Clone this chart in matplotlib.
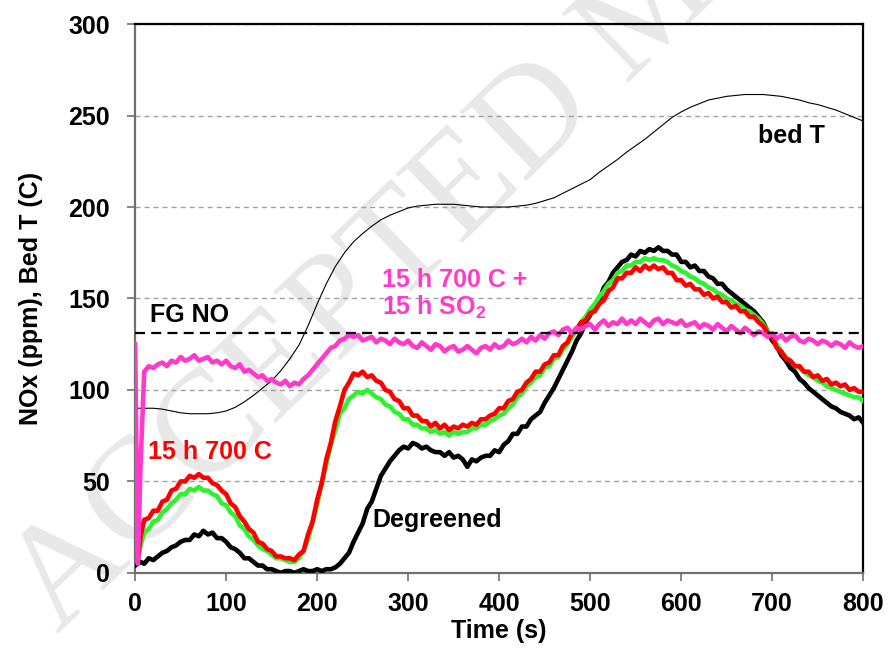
import numpy as np
import matplotlib
matplotlib.use("Agg")
import matplotlib.pyplot as plt

plt.rcParams['font.family'] = ['Liberation Sans', 'DejaVu Sans']
plt.rcParams['font.weight'] = 'bold'
plt.rcParams['mathtext.fontset'] = 'custom'
plt.rcParams['mathtext.bf'] = 'Liberation Sans:bold'
plt.rcParams['mathtext.rm'] = 'Liberation Sans:bold'
plt.rcParams['mathtext.default'] = 'bf'

# time base for the NOx traces (s)
t_nox = [0, 3, 6] + list(range(10, 801, 5))

nox_degreened = [
    4, 5, 6, 5, 8, 7, 9, 11, 12, 14,
    15, 17, 18, 18, 21, 20, 23, 21, 22, 19,
    19, 17, 14, 13, 11, 8, 8, 6, 4, 4,
    2, 2, 1, 0, 1, 1, 0, 1, 2, 1,
    1, 2, 1, 2, 2, 3, 5, 8, 11, 17,
    22, 27, 35, 39, 46, 53, 57, 61, 64, 67,
    69, 68, 71, 70, 68, 69, 67, 66, 66, 64,
    66, 63, 64, 62, 58, 62, 61, 63, 64, 64,
    67, 66, 70, 72, 76, 76, 80, 80, 84, 86,
    88, 93, 97, 101, 106, 111, 116, 121, 127, 131,
    137, 141, 145, 149, 156, 159, 164, 167, 170, 171,
    174, 173, 176, 175, 177, 176, 178, 176, 176, 174,
    174, 170, 170, 167, 168, 165, 165, 162, 161, 158,
    158, 155, 153, 151, 149, 147, 145, 143, 140, 137,
    132, 127, 124, 119, 116, 112, 110, 106, 104, 101,
    99, 97, 95, 93, 91, 90, 88, 87, 86, 84,
    85, 82,
]

nox_700c = [
    10, 7, 20, 29, 30, 34, 34, 39, 40, 45,
    46, 50, 50, 53, 52, 54, 52, 52, 49, 48,
    45, 43, 38, 36, 31, 28, 24, 22, 17, 16,
    13, 12, 9, 9, 8, 8, 7, 10, 12, 21,
    28, 40, 49, 62, 71, 83, 91, 100, 104, 109,
    108, 110, 107, 108, 105, 104, 100, 99, 95, 94,
    90, 90, 86, 86, 83, 83, 80, 82, 79, 81,
    78, 80, 79, 81, 80, 82, 81, 84, 84, 86,
    87, 90, 90, 94, 95, 99, 100, 104, 106, 110,
    110, 114, 115, 119, 119, 124, 126, 131, 133, 137,
    138, 142, 143, 147, 149, 154, 156, 161, 161, 164,
    164, 167, 165, 168, 166, 168, 166, 167, 164, 164,
    160, 160, 157, 158, 155, 155, 152, 153, 150, 151,
    148, 148, 145, 146, 143, 143, 140, 140, 137, 135,
    131, 129, 123, 121, 117, 116, 113, 113, 110, 110,
    107, 108, 105, 106, 103, 104, 102, 103, 100, 101,
    99, 99,
]

nox_green = [
    10, 8, 15, 22, 24, 28, 29, 33, 35, 38,
    40, 43, 43, 46, 45, 47, 45, 45, 43, 42,
    38, 37, 33, 31, 26, 24, 20, 18, 15, 13,
    12, 10, 8, 8, 7, 6, 6, 8, 12, 18,
    28, 37, 49, 59, 70, 78, 87, 90, 95, 97,
    99, 98, 100, 98, 96, 95, 92, 91, 88, 87,
    84, 84, 81, 81, 79, 79, 77, 78, 76, 77,
    75, 77, 76, 77, 77, 79, 79, 81, 81, 83,
    84, 86, 87, 90, 92, 96, 98, 102, 104, 107,
    108, 112, 113, 117, 118, 122, 125, 129, 133, 137,
    140, 144, 147, 151, 154, 158, 160, 164, 165, 168,
    168, 170, 170, 172, 171, 172, 171, 171, 170, 168,
    167, 165, 164, 162, 161, 159, 158, 156, 155, 153,
    152, 150, 149, 147, 146, 144, 143, 141, 139, 136,
    132, 129, 125, 121, 118, 116, 113, 112, 110, 108,
    107, 105, 104, 102, 101, 100, 99, 98, 97, 96,
    96, 94,
]

nox_700c_so2 = [
    125, 5, 60, 110, 113, 112, 114, 115, 113, 116,
    115, 118, 116, 117, 119, 116, 117, 118, 115, 116,
    114, 116, 113, 112, 114, 110, 111, 109, 107, 108,
    105, 106, 104, 103, 105, 102, 104, 103, 106, 108,
    111, 114, 117, 120, 123, 124, 127, 128, 130, 129,
    130, 127, 128, 129, 126, 128, 127, 125, 128, 126,
    125, 127, 124, 123, 126, 124, 122, 125, 124, 121,
    123, 124, 121, 122, 124, 122, 120, 123, 124, 122,
    125, 123, 124, 127, 125, 126, 128, 126, 129, 127,
    130, 128, 131, 132, 130, 133, 134, 131, 134, 133,
    135, 136, 133, 136, 138, 135, 137, 136, 139, 136,
    138, 136, 139, 137, 135, 138, 139, 136, 138, 137,
    136, 138, 135, 136, 137, 134, 136, 135, 133, 136,
    134, 132, 135, 133, 131, 134, 132, 130, 132, 131,
    129, 131, 128, 130, 127, 129, 130, 127, 126, 128,
    127, 125, 127, 126, 124, 126, 125, 123, 126, 124,
    123, 124,
]

# bed temperature, every 10 s
t_bed = list(range(0, 801, 10))
bed_T = [
    90, 90, 90, 89.5, 88.5, 87.5, 87, 87, 87, 87.5,
    88.5, 90.5, 93.5, 97, 101, 105, 110.5, 117, 124.5, 135,
    147, 158, 167.5, 175, 181, 185.5, 189.5, 193, 195.5, 197.5,
    199.5, 200.5, 201, 201.5, 201.5, 201.5, 201, 200.5, 200, 200,
    200, 200, 200.5, 201, 202, 203.5, 205, 207.5, 210, 212.5,
    215, 219, 222.5, 226, 230, 233.5, 237, 241, 245, 249,
    252, 254.5, 256.5, 258.5, 259.5, 260.5, 261, 261.5, 261.5, 261.5,
    261, 260.5, 259.5, 258.5, 257, 256, 254.5, 253, 251, 249,
    247,
]

fg_no = 131

black = 'black'
green = '#2EF22E'
red = '#FF0000'
pink = '#FF3ACB'

fig = plt.figure(figsize=(8.89, 6.51), dpi=100)
ax = fig.add_axes([0.152, 0.120, 0.819, 0.843])
ax.patch.set_alpha(0)

fig.text(0.064, 0.025, 'ACCEPTED MANUSCRIPT', rotation=44, rotation_mode='anchor',
         ha='left', va='baseline', fontsize=105, family='Liberation Serif',
         weight='normal', color='#e8e8e8', zorder=-5)

ax.plot(t_nox, nox_degreened, color=black, lw=3.3, solid_joinstyle='round', zorder=3)
ax.plot(t_nox, nox_green, color=green, lw=3.3, solid_joinstyle='round', zorder=4)
ax.plot(t_nox, nox_700c, color=red, lw=3.3, solid_joinstyle='round', zorder=5)
ax.plot(t_nox, nox_700c_so2, color=pink, lw=3.3, solid_joinstyle='round', zorder=6)
ax.plot(t_bed, bed_T, color='black', lw=0.8, zorder=2)
ax.axhline(fg_no, color='black', lw=1.6, dashes=(4.5, 2.8), zorder=7)

ax.set_xlim(0, 800)
ax.set_ylim(0, 300)
ax.set_xticks(np.arange(0, 801, 100))
ax.set_yticks(np.arange(0, 301, 50))
ax.grid(axis='y', color='#a0a0a0', lw=1.0, dashes=(3.6, 2.9), zorder=1)
ax.set_axisbelow(True)

for side in ['left', 'bottom']:
    ax.spines[side].set_color('#707070')
    ax.spines[side].set_linewidth(1.6)
for side in ['top', 'right']:
    ax.spines[side].set_color('black')
    ax.spines[side].set_linewidth(1.6)
ax.tick_params(axis='both', direction='out', length=6, width=1.2, color='#707070',
               labelsize=18)
ax.tick_params(axis='y', pad=12)
ax.tick_params(axis='x', pad=8)

ax.set_xlabel('Time (s)', fontsize=18, fontweight='bold', labelpad=2)
ax.set_ylabel('NOx (ppm), Bed T (C)', fontsize=18, fontweight='bold', labelpad=18)

ax.text(16, 141, 'FG NO', fontsize=18, color='black', ha='left', va='center')
ax.text(271, 160, '15 h 700 C +', fontsize=18, color=pink, ha='left', va='center')
ax.text(271, 145, '15 h SO$_2$', fontsize=18, color=pink, ha='left', va='center')
ax.text(14, 66, '15 h 700 C', fontsize=18, color=red, ha='left', va='center')
ax.text(261, 29, 'Degreened', fontsize=18, color='black', ha='left', va='center')
ax.text(684, 239, 'bed T', fontsize=18, color='black', ha='left', va='center')

fig.savefig('out.png', dpi=100)
